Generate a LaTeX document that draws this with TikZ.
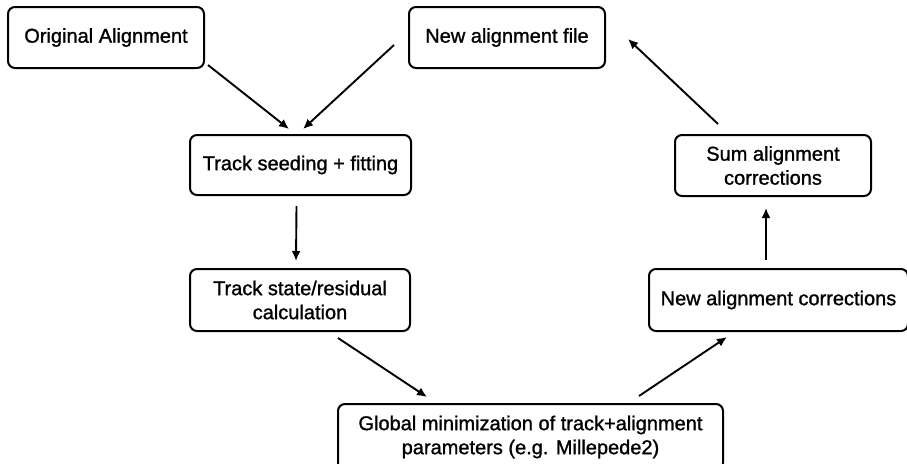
\documentclass[tikz,border=0pt]{standalone}
\usepackage{fontspec}
\setmainfont{Liberation Sans}
\newfontfamily\medfont{Liberation Sans}[FakeBold=1.2]
\usetikzlibrary{arrows.meta}

\begin{document}
\begin{tikzpicture}[x=1pt, y=-1pt,
        stepbox/.style={draw, line width=2pt, rounded corners=7pt, align=center,
            font=\medfont\fontsize{20}{24}\selectfont, inner sep=0pt},
        flow/.style={-{Latex[length=10pt, width=9pt]}, line width=1.9pt}]
            \useasboundingbox (0,0) rectangle (907,463);

            % Inputs
            \node[stepbox, minimum width=196pt, minimum height=61pt] (orig) at (106,37.5) {Original Alignment};
            \node[stepbox, minimum width=196pt, minimum height=61pt] (newfile) at (507,37.5) {New alignment file};

            % Track reconstruction
            \node[stepbox, minimum width=221pt, minimum height=60pt] (seed) at (300.5,165) {Track seeding + fitting};
            \node[stepbox, minimum width=220pt, minimum height=62pt] (state) at (300,300) {Track state/residual\\calculation};

            % Minimization
            \node[stepbox, minimum width=385pt, minimum height=66pt] (global) at (530.5,437) {Global minimization of track+alignment\\parameters (e.g. Millepede2)};

            % Corrections
            \node[stepbox, minimum width=259pt, minimum height=62pt] (newcorr) at (778.5,300) {New alignment corrections};
            \node[stepbox, minimum width=196pt, minimum height=61pt] (sum) at (773,165.5) {Sum alignment\\corrections};

            % Connectors
            \draw[flow] ([xshift=3pt, yshift=4pt]orig.south east) -- ([xshift=-11.5pt, yshift=5pt]seed.north);
            \draw[flow] ([xshift=-14pt, yshift=-7.5pt]newfile.west) -- ([xshift=2.5pt, yshift=5pt]seed.north);
            \draw[flow] ([xshift=-4pt, yshift=-10pt]seed.south) -- ([xshift=-4pt, yshift=7pt]state.north);
            \draw[flow] ([xshift=149pt, yshift=-6pt]state.south west) -- ([xshift=90pt, yshift=6pt]global.north west);
            \draw[flow] ([xshift=-85pt, yshift=7pt]global.north east) -- ([xshift=79pt, yshift=-5pt]newcorr.south west);
            \draw[flow] ([xshift=-12.5pt, yshift=8pt]newcorr.north) -- ([xshift=-7pt, yshift=-11pt]sum.south);
            \draw[flow] ([xshift=-55pt, yshift=10pt]sum.north) -- ([xshift=22pt, yshift=-1.5pt]newfile.east);
        \end{tikzpicture}
\end{document}
